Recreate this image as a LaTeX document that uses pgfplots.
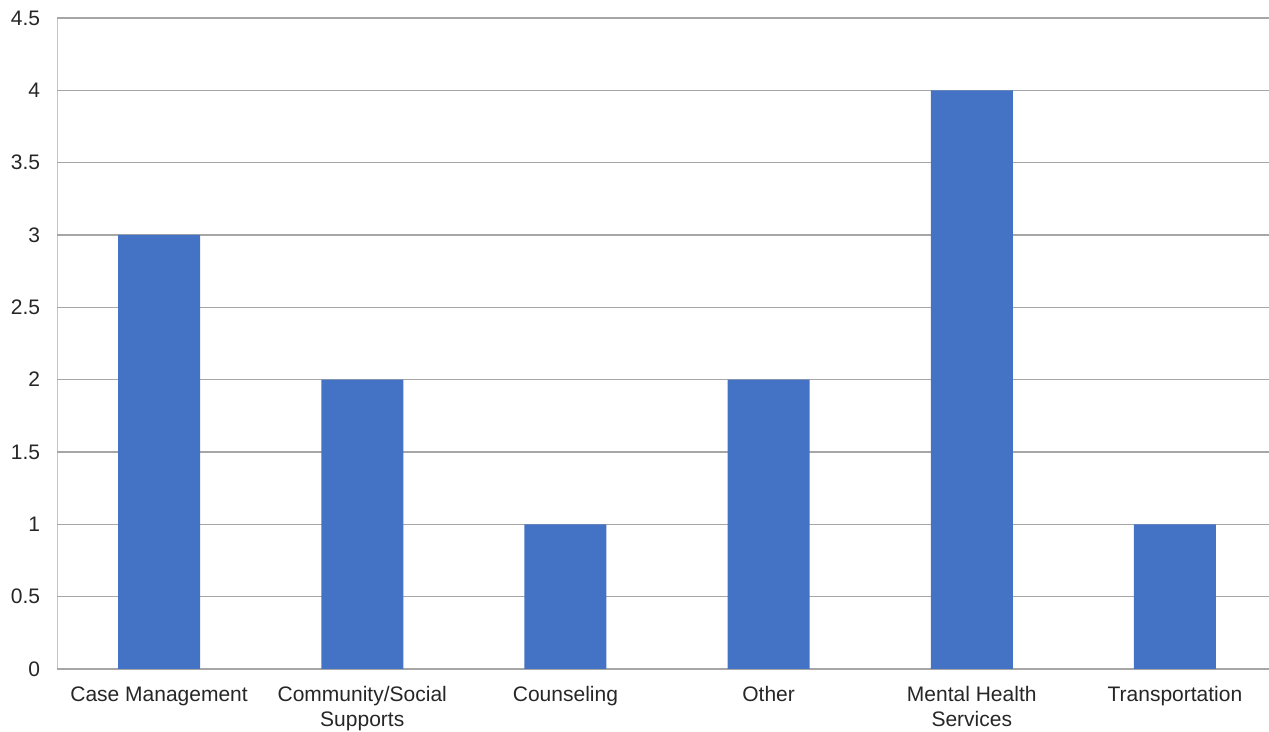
\documentclass[border=0pt]{standalone}
\usepackage{pgfplots}
\pgfplotsset{compat=1.18}
\usepackage{fontspec}
\setmainfont{Liberation Sans}
\definecolor{barblue}{HTML}{4472C4}
\definecolor{gridgray}{HTML}{A6A6A6}
\definecolor{labelgray}{HTML}{262626}
\begin{document}
\begin{tikzpicture}
\begin{axis}[
  name=ax,
  at={(0,0)}, anchor=south west,
  scale only axis,
  width=605.75pt, height=325.5pt,
  xmin=-0.5, xmax=5.463,
  ymin=0, ymax=4.5,
  enlargelimits=false,
  ybar,
  bar width=41pt,
  xtick={0,1,2,3,4,5},
  xticklabels={Case Management,{Community/Social\\Supports},Counseling,Other,{Mental Health\\Services},Transportation},
  ytick={0,0.5,...,4.5},
  major tick length=0pt,
  ymajorgrids,
  grid style={draw=gridgray, line width=0.6pt},
  axis line style={draw=none},
  /pgf/number format/assume math mode=true,
  ticklabel style={font=\fontsize{10.5}{12.5}\selectfont, text=labelgray},
  xticklabel style={anchor=north, align=center, inner sep=0pt, yshift=-8.5pt},
  yticklabel style={anchor=east, inner sep=0pt, xshift=-8.5pt},
]
\addplot[fill=barblue, draw=none] coordinates {
  (0,3) (1,2) (2,1) (3,2) (4,4) (5,1)
};
\draw[draw=gridgray, line width=0.6pt] (rel axis cs:0,0) -- (rel axis cs:0,1);
\end{axis}
\pgfresetboundingbox
\path[use as bounding box] (-28.75pt,-31.5pt) rectangle (605.75pt,334.5pt);
\end{tikzpicture}
\end{document}
